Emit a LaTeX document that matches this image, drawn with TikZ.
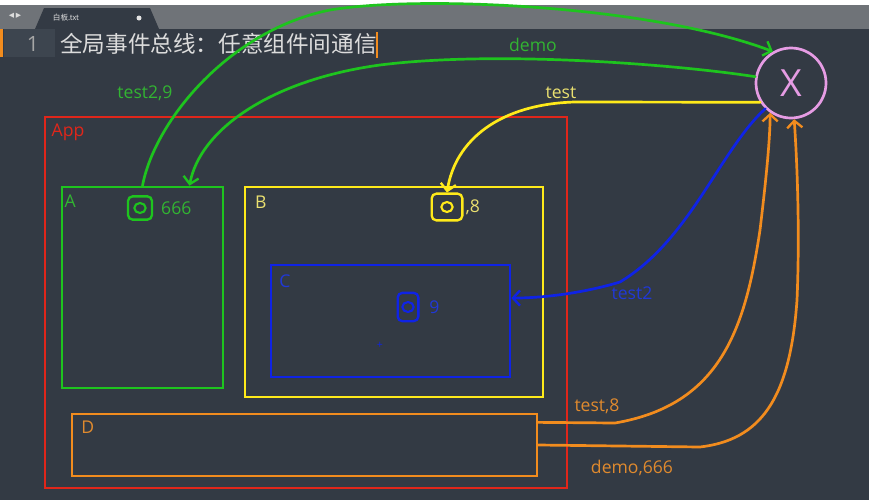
\documentclass[tikz,border=0pt]{standalone}
\usepackage{fontspec}
\setmainfont{Open Sans}
\newfontfamily\cjkfont{Noto Sans CJK SC}
\newfontfamily\symfont{DejaVu Sans}
\usetikzlibrary{positioning, arrows.meta, fit, calc}

\definecolor{edbg}{HTML}{333A44}
\definecolor{tabbar}{HTML}{6F7378}
\definecolor{gutter}{HTML}{3D454F}
\definecolor{ttext}{HTML}{DCDCDC}
\definecolor{appred}{HTML}{E0261A}
\definecolor{agreen}{HTML}{1EC41E}
\definecolor{tgreen}{HTML}{32B432}
\definecolor{byellow}{HTML}{FFEA1A}
\definecolor{tyellow}{HTML}{EAE070}
\definecolor{cblue}{HTML}{0F23E6}
\definecolor{tblue}{HTML}{2038D8}
\definecolor{dorange}{HTML}{F28C1E}
\definecolor{torange}{HTML}{E08A2E}
\definecolor{buspink}{HTML}{E69CE4}

\begin{document}
\begin{tikzpicture}[
  x=0.03cm, y=-0.03cm,
  frame/.style={draw=#1, line width=2.3pt, inner sep=0pt},
  lbl/.style={text=#1, font=\fontsize{15}{18}\selectfont, inner sep=1pt},
  scrib/.style={draw=#1, line width=2pt, rounded corners=4pt, inner sep=0pt,
                path picture={\draw[#1, line width=1.8pt]
                  (path picture bounding box.center) ellipse (0.17cm and 0.15cm);}},
  arr/.style={draw=#1, line width=2.3pt, line cap=round, line join=round,
              -{Straight Barb[length=6pt, width=13pt, line width=2pt]}},
  node distance=0.2cm
]
% window
\useasboundingbox (0,0) rectangle (869,500);
\fill[white] (0,0) rectangle (869,5);
\fill[tabbar] (0,5) rectangle (869,29);
\fill[edbg] (0,29) rectangle (869,500);
\fill[edbg] (35,29) -- (44,8) -- (150,8) -- (159,29) -- cycle;
\node[text=ttext, font=\symfont\fontsize{9}{10}\selectfont, inner sep=0pt] (nav) at (15,16) {◂\,▸};
\node[text=ttext, font=\cjkfont\fontsize{6.5}{8}\selectfont] (tabname) at (66,18) {白板.txt};
\fill[ttext!80] (139,18) circle (2.5);
\fill[gutter] (4,29) rectangle (55,57);
\fill[dorange] (0,29) rectangle (3,57);
\node[text=gray!70, font=\fontsize{18}{20}\selectfont] (lineno) at (33,44) {1};
\node[text=ttext, font=\cjkfont\fontsize{19.3}{22}\selectfont, anchor=west, inner sep=0pt]
  (title) at (60,44) {全局事件总线：任意组件间通信};
\draw[dorange, line width=1pt] (377,32) -- (377,58);

% components
\node[frame=appred, fit={(45,117) (567,488)}] (app) {};
\node[frame=agreen, fit={(62,187) (223,388)}] (A) {};
\node[frame=byellow, fit={(245,187) (543,397)}] (B) {};
\node[frame=cblue, fit={(271,265) (510,377)}] (C) {};
\node[frame=dorange, fit={(72,414) (537,476)}] (D) {};

\node[lbl=appred, anchor=north west, below right=0.22cm and 0.2cm of app.north west] (applbl) {App};
\node[lbl=tgreen, anchor=north west, below right=0.25cm and 0.08cm of A.north west] (albl) {A};
\node[lbl=tyellow, anchor=north west, below right=0.28cm and 0.3cm of B.north west] (blbl) {B};
\node[lbl=tblue, anchor=north west, below right=0.3cm and 0.25cm of C.north west] (clbl) {C};
\node[lbl=torange, anchor=north west, below right=0.22cm and 0.28cm of D.north west] (dlbl) {D};

% hooks in the components
\node[scrib=agreen, minimum width=0.72cm, minimum height=0.7cm] (sa) at (140,208) {};
\node[lbl=tgreen, right=0.2cm of sa] (sanum) {666};
\node[scrib=byellow, minimum width=0.92cm, minimum height=0.8cm] (sb) at (447,207) {};
\node[lbl=tyellow, right=0.02cm of sb] (sbnum) {,8};
\node[scrib=cblue, minimum width=0.62cm, minimum height=0.85cm] (sc) at (408,307) {};
\node[lbl=tblue, right=0.25cm of sc] (scnum) {9};
\node[text=cblue, font=\fontsize{9}{10}\selectfont, inner sep=0pt] (cur) at (380,345) {+};

% event bus
\node[circle, draw=buspink, line width=2.3pt, minimum size=2.1cm, inner sep=0pt,
      text=buspink, font=\fontsize{32}{34}\selectfont] (bus) at (791,83) {X};

% connectors
\draw[arr=agreen] (A.north) .. controls (155,120) and (230,30) .. (330,10)
  .. controls (420,-5) and (650,5) .. (bus.120);
\draw[arr=agreen] (bus.170) .. controls (680,65) and (500,50) .. (380,65)
  .. controls (270,80) and (200,130) .. ($(A.north)+(47,0)$);
\draw[arr=byellow] (bus.212) -- (575,102) .. controls (500,104) and (455,140) .. (sb.north);
\draw[arr=cblue] (bus.225) .. controls (720,150) and (690,240) .. (620,282)
  .. controls (580,294) and (540,298) .. ($(C.north east)!0.3!(C.south east)$);
\draw[arr=dorange] ($(D.north east)!0.15!(D.south east)$) -- (615,423)
  .. controls (720,405) and (745,330) .. (760,230) .. controls (766,180) and (770,140) .. (bus.235);
\draw[arr=dorange] (D.east) -- (700,447) .. controls (760,440) and (790,400) .. (797,300)
  .. controls (800,230) and (797,160) .. (bus.275);

% labels
\node[lbl=tgreen] (l1) at (145,93) {test2,9};
\node[lbl=tgreen] (l2) at (533,45) {demo};
\node[lbl=tyellow] (l3) at (561,93) {test};
\node[lbl=tblue] (l4) at (632,293) {test2};
\node[lbl=torange] (l5) at (597,406) {test,8};
\node[lbl=torange] (l6) at (632,468) {demo,666};
\end{tikzpicture}
\end{document}
